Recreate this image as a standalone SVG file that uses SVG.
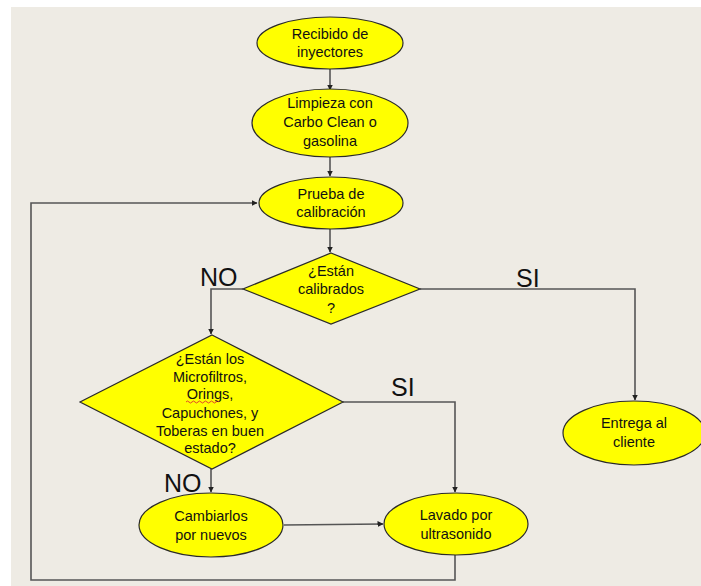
<svg xmlns="http://www.w3.org/2000/svg" width="701" height="586" viewBox="0 0 701 586">
  <style>
    .node { fill: #ffff00; stroke: #2a2a2a; stroke-width: 1.2; }
    .t { font-family: "Liberation Sans", Arial, sans-serif; font-size: 14.5px; fill: #111; text-anchor: middle; }
    .lbl { font-family: "Liberation Sans", Arial, sans-serif; font-size: 25px; fill: #111; }
    .c { fill: none; stroke: #555; stroke-width: 1.6; }
    .ca { fill: none; stroke: #555; stroke-width: 1.6; marker-end: url(#ah); }
  </style>
  <defs>
    <marker id="ah" markerWidth="6" markerHeight="6" refX="5.5" refY="3" orient="auto" markerUnits="userSpaceOnUse">
      <path d="M0,0 L6,3 L0,6 Z" fill="#222"/>
    </marker>
  </defs>
  <rect x="0" y="0" width="701" height="586" fill="#ffffff"/>
  <rect x="11" y="7" width="690" height="579" fill="#eeebe4"/>

  <g id="connectors">
    <path class="ca" d="M330,69 L330,90"/>
    <path class="ca" d="M330,157 L330,176"/>
    <path class="ca" d="M330,229 L330,252"/>
    <path class="ca" d="M243,289 L211,289 L211,334"/>
    <path class="ca" d="M420,289 L635,289 L635,400"/>
    <path class="ca" d="M343,402 L455,402 L455,492"/>
    <path class="ca" d="M211,469 L211,492"/>
    <path class="ca" d="M284,525 L383,524"/>
    <path class="ca" d="M455,555 L455,580 L31,580 L31,203 L257,203"/>
  </g>

  <g id="n1">
    <ellipse class="node" cx="330" cy="43" rx="73" ry="26"/>
    <text class="t" x="330" y="39">Recibido de</text>
    <text class="t" x="330" y="57">inyectores</text>
  </g>
  <g id="n2">
    <ellipse class="node" cx="330" cy="123" rx="78" ry="34"/>
    <text class="t" x="330" y="108">Limpieza con</text>
    <text class="t" x="330" y="127">Carbo Clean o</text>
    <text class="t" x="330" y="146">gasolina</text>
  </g>
  <g id="n3">
    <ellipse class="node" cx="331" cy="203" rx="72" ry="26"/>
    <text class="t" x="331" y="199">Prueba de</text>
    <text class="t" x="331" y="217">calibración</text>
  </g>
  <g id="d1">
    <polygon class="node" points="331,253 420,289 331,324 243,289"/>
    <text class="t" x="331" y="276">¿Están</text>
    <text class="t" x="331" y="294">calibrados</text>
    <text class="t" x="331" y="313">?</text>
  </g>
  <g id="d2">
    <polygon class="node" points="212,335 343,402 212,469 80,402"/>
    <text class="t" x="210" y="364">¿Están los</text>
    <text class="t" x="210" y="382">Microfiltros,</text>
    <text class="t" x="210" y="399">Orings,</text>
    <path d="M186,402 q1.5,-2 3,0 t3,0 t3,0 t3,0 t3,0 t3,0 t3,0 t3,0 t3,0 t3,0 t3,0" fill="none" stroke="#e03030" stroke-width="0.9"/>
    <text class="t" x="210" y="418">Capuchones, y</text>
    <text class="t" x="210" y="436">Toberas en buen</text>
    <text class="t" x="210" y="453">estado?</text>
  </g>
  <g id="n4">
    <ellipse class="node" cx="634" cy="433" rx="71" ry="32"/>
    <text class="t" x="634" y="428">Entrega al</text>
    <text class="t" x="634" y="447">cliente</text>
  </g>
  <g id="n5">
    <ellipse class="node" cx="211" cy="525" rx="72" ry="32"/>
    <text class="t" x="211" y="521">Cambiarlos</text>
    <text class="t" x="211" y="540">por nuevos</text>
  </g>
  <g id="n6">
    <ellipse class="node" cx="456" cy="524" rx="72" ry="31"/>
    <text class="t" x="456" y="520">Lavado por</text>
    <text class="t" x="456" y="539">ultrasonido</text>
  </g>

  <g id="labels">
    <text class="lbl" x="200" y="286">NO</text>
    <text class="lbl" x="516" y="287">SI</text>
    <text class="lbl" x="391" y="396">SI</text>
    <text class="lbl" x="164" y="492">NO</text>
  </g>
</svg>
